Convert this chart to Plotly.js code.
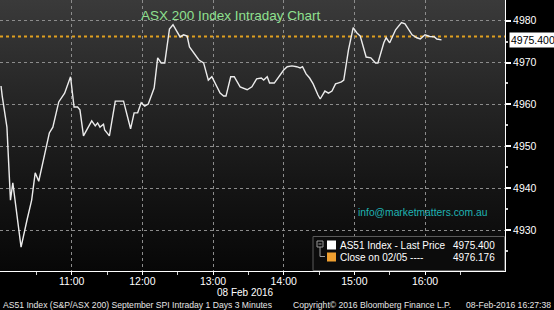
<!DOCTYPE html>
<html>
<head>
<meta charset="utf-8">
<script src="https://cdn.plot.ly/plotly-3.0.1.min.js"></script>
<style>
  html, body { margin: 0; padding: 0; background: #000; }
  #wrap { position: relative; width: 554px; height: 310px; background: #000; overflow: hidden; }
  #bg { position: absolute; left: 0; top: 0; width: 505px; height: 271px;
        background: linear-gradient(to bottom, #3a3a3a 0%, #262626 35%, #141414 70%, #070707 100%); }
  #chart { position: absolute; left: 0; top: 0; width: 554px; height: 310px; }
</style>
</head>
<body>
<div id="wrap"><div id="bg"></div><div id="chart"></div></div>
<script>
// ---- data ----
const day = "2016-02-08";
const times = [
  "10:00","10:01","10:05","10:08","10:10","10:17","10:22","10:26","10:29","10:32",
  "10:36","10:41","10:44","10:49","10:54","10:59","11:02","11:05","11:07","11:10",
  "11:17","11:20","11:22","11:24","11:27","11:28","11:32","11:37","11:44","11:50",
  "11:53","11:56","11:59","12:02","12:05","12:10","12:13","12:16","12:19","12:23",
  "12:26","12:32","12:35","12:38","12:40","12:48","12:52","12:56","12:59","13:06",
  "13:09","13:11","13:15","13:18","13:23","13:25","13:29","13:33","13:37","13:41",
  "13:43","13:46","13:48","13:52","13:55","14:00","14:03","14:07","14:11","14:14",
  "14:16","14:19","14:22","14:25","14:29","14:31","14:35","14:38","14:41","14:44",
  "14:46","14:49","14:51","14:55","14:59","15:02","15:05","15:10","15:14","15:18",
  "15:20","15:25","15:27","15:30","15:35","15:40","15:43","15:49","15:53","15:56",
  "16:00","16:04","16:08","16:10","16:14"
];
const prices = [
  4964.4,4962.0,4954.6,4937.2,4941.3,4926.0,4932.4,4937.2,4943.7,4941.7,
  4946.8,4953.2,4954.6,4960.6,4962.7,4966.6,4959.4,4959.4,4958.7,4952.5,
  4956.1,4954.9,4955.6,4954.6,4955.3,4953.9,4952.5,4960.8,4960.8,4954.2,
  4958.0,4958.0,4960.4,4959.6,4960.1,4963.9,4971.1,4969.9,4969.9,4978.0,
  4979.0,4976.1,4976.6,4976.3,4973.7,4970.6,4969.9,4965.8,4966.6,4962.7,
  4962.0,4962.0,4966.6,4966.6,4964.2,4963.9,4963.5,4964.2,4966.1,4966.3,
  4965.8,4966.6,4965.1,4965.1,4966.3,4968.2,4969.0,4969.2,4969.0,4968.7,
  4969.0,4967.3,4966.3,4964.9,4962.3,4961.3,4963.2,4962.7,4963.2,4964.9,
  4965.1,4965.4,4965.8,4973.0,4978.3,4977.1,4976.3,4971.3,4971.1,4969.9,
  4969.9,4974.7,4975.9,4974.7,4977.8,4979.5,4979.2,4976.6,4975.9,4975.6,
  4976.6,4976.2,4976.1,4975.6,4975.4
];
const lastPrice = 4975.400;
const closePrice = 4976.176;
const closeLabel = "Close on 02/05 ----";
const seriesLabel = "AS51 Index - Last Price";
const hourTicks = ["11:00","12:00","13:00","14:00","15:00","16:00"];
const halfHourTicks = ["10:30","11:30","12:30","13:30","14:30","15:30","16:30"];
const yTicks = [4930, 4940, 4950, 4960, 4970, 4980];
const titleText = "ASX 200 Index Intraday Chart";
const watermark = "info@marketmatters.com.au";
const dateLabel = "08 Feb 2016";
const footLeft = "AS51 Index (S&amp;P/ASX 200) September SPI Intraday 1 Days 3 Minutes";
const footMid = "Copyright\u00a9 2016 Bloomberg Finance L.P.";
const footRight = "08-Feb-2016 16:27:38";

// ---- layout helpers (pixel -> paper) ----
const PW = 505, PH = 271;
const px = x => x / PW;
const py = y => (PH - y) / PH;
const ts = t => day + " " + t;
const FONT = "Liberation Sans, Arial, sans-serif";

const trace = {
  x: times.map(ts), y: prices, type: "scatter", mode: "lines",
  line: { color: "#ececec", width: 1.4 }, hoverinfo: "skip"
};

const shapes = [
  { type: "line", xref: "paper", x0: 0, x1: 1, yref: "y", y0: closePrice, y1: closePrice,
    line: { color: "#e0a020", width: 2, dash: "dot" }, layer: "between" },
  // legend box
  { type: "rect", xref: "paper", yref: "paper", x0: px(313), x1: px(504.5), y0: py(270.5), y1: py(236.5),
    fillcolor: "#0c0c0c", line: { color: "#5a5a5a", width: 1 }, layer: "above" },
  // tree icon
  { type: "rect", xref: "paper", yref: "paper", x0: px(317), x1: px(323), y0: py(247), y1: py(241),
    fillcolor: "rgba(0,0,0,0)", line: { color: "#9a9a9a", width: 1 }, layer: "above" },
  { type: "line", xref: "paper", yref: "paper", x0: px(318.5), x1: px(321.5), y0: py(244), y1: py(244),
    line: { color: "#9a9a9a", width: 1 }, layer: "above" },
  { type: "line", xref: "paper", yref: "paper", x0: px(320), x1: px(320), y0: py(247), y1: py(256.5),
    line: { color: "#9a9a9a", width: 1 }, layer: "above" },
  { type: "line", xref: "paper", yref: "paper", x0: px(320), x1: px(325), y0: py(256.5), y1: py(256.5),
    line: { color: "#9a9a9a", width: 1 }, layer: "above" },
  // legend swatches
  { type: "rect", xref: "paper", yref: "paper", x0: px(327), x1: px(336), y0: py(249.5), y1: py(240.5),
    fillcolor: "#ffffff", line: { width: 0 }, layer: "above" },
  { type: "rect", xref: "paper", yref: "paper", x0: px(327), x1: px(336), y0: py(261.5), y1: py(252.5),
    fillcolor: "#f0a030", line: { width: 0 }, layer: "above" }
];

const ann = (text, x, y, opts) => Object.assign({
  text, xref: "paper", yref: "paper", x: px(x), y: py(y), showarrow: false,
  xanchor: "left", yanchor: "middle", font: { family: FONT, size: 10, color: "#ffffff" }
}, opts || {});

const annotations = [
  ann(titleText, 231, 15, { xanchor: "center", font: { family: FONT, size: 13.5, color: "#8fe08f" } }),
  ann(watermark, 423, 212, { xanchor: "center", font: { family: FONT, size: 10.3, color: "#1fb3b3" } }),
  ann(seriesLabel, 338, 245.5, { font: { family: FONT, size: 10, color: "#ffffff" } }),
  ann(lastPrice.toFixed(3), 497, 245.5, { xanchor: "right", font: { family: FONT, size: 10, color: "#ffffff" } }),
  ann(closeLabel, 338, 257.5, { font: { family: FONT, size: 10, color: "#ffffff" } }),
  ann(closePrice.toFixed(3), 497, 257.5, { xanchor: "right", font: { family: FONT, size: 10, color: "#ffffff" } }),
  ann(dateLabel, 245, 292, { xanchor: "center", font: { family: FONT, size: 10, color: "#ffffff" } }),
  ann(footLeft, 1, 304.5, { font: { family: FONT, size: 8.6, color: "#e6e6e6" } }),
  ann(footMid, 291, 304.5, { font: { family: FONT, size: 8.6, color: "#e6e6e6" } }),
  ann(footRight, 553, 304.5, { xanchor: "right", font: { family: FONT, size: 8.6, color: "#e6e6e6" } }),
  // last price tag on the right axis
  { text: lastPrice.toFixed(3), xref: "paper", yref: "y", x: 1, y: lastPrice, xanchor: "left", yanchor: "middle",
    xshift: 4, showarrow: false, bgcolor: "#ffffff", borderpad: 1,
    font: { family: FONT, size: 10.5, color: "#000000" } }
];

const layout = {
  width: 554, height: 310,
  margin: { l: 0, r: 49, t: 0, b: 39, pad: 0 },
  paper_bgcolor: "rgba(0,0,0,0)", plot_bgcolor: "rgba(0,0,0,0)",
  showlegend: false,
  font: { family: FONT, size: 10, color: "#ffffff" },
  xaxis: {
    type: "date",
    range: [ts("09:59:07"), ts("17:07:54")],
    tickvals: hourTicks.map(ts), ticktext: hourTicks,
    showgrid: true, gridcolor: "#8c8c8c", griddash: "dot", gridwidth: 1,
    showline: true, linecolor: "#ffffff", linewidth: 1,
    ticks: "outside", ticklen: 3, tickcolor: "#ffffff",
    ticklabelstandoff: -3,
    tickfont: { family: FONT, size: 10.5, color: "#ffffff" },
    minor: { tickvals: halfHourTicks.map(ts), ticks: "outside", ticklen: 3, tickcolor: "#cfcfcf", showgrid: false },
    zeroline: false, fixedrange: true
  },
  yaxis: {
    side: "right",
    range: [4920.3, 4984.9],
    tickvals: yTicks, ticktext: yTicks.map(String),
    showgrid: true, gridcolor: "#8c8c8c", griddash: "dot", gridwidth: 1,
    showline: true, linecolor: "#ffffff", linewidth: 1,
    ticks: "outside", ticklen: 5, tickwidth: 2, tickcolor: "#ffffff",
    tickfont: { family: FONT, size: 10.5, color: "#ffffff" },
    minor: { dtick: 5, tick0: 4925, ticks: "outside", ticklen: 2, tickcolor: "#cfcfcf", showgrid: false },
    zeroline: false, fixedrange: true
  },
  shapes, annotations
};

Plotly.newPlot("chart", [trace], layout, { displayModeBar: false, staticPlot: true });
</script>
</body>
</html>
